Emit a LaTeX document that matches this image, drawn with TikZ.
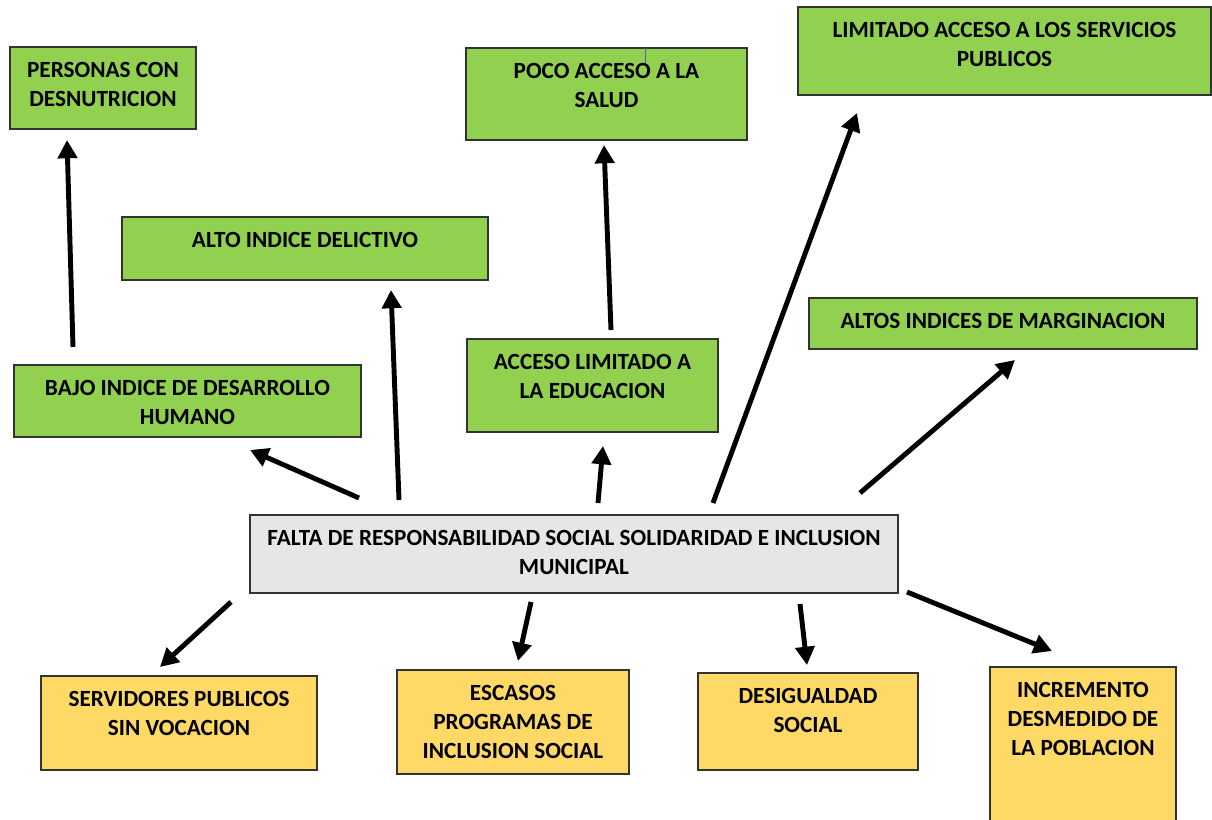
\documentclass[tikz,border=0pt]{standalone}
\usepackage{fontspec}
\setmainfont{Carlito}
\usetikzlibrary{arrows.meta}
\definecolor{effectgreen}{HTML}{92D050}
\definecolor{causeyellow}{HTML}{FFD966}
\definecolor{problemgray}{HTML}{E7E6E6}
\newlength{\pxu}
\setlength{\pxu}{0.025cm}
\newcommand{\boxtext}[3]{\parbox[b][#2\pxu][t]{#1\pxu}{\centering\vspace*{15\pxu}#3}}
\tikzset{
	box/.style={draw=black!80, line width=0.8pt, inner sep=0pt, outer sep=0pt, anchor=north west, font=\fontsize{16.5}{20.6}\selectfont\bfseries},
	effect/.style={box, fill=effectgreen},
	problem/.style={box, fill=problemgray},
	cause/.style={box, fill=causeyellow},
	arrowline/.style={line width=3.5pt, -{Triangle[length=13pt,width=13.5pt]}}
}
\begin{document}
\begin{tikzpicture}[x=0.025cm, y=-0.025cm]
				\useasboundingbox (0,0) rectangle (1212,820) ;
				% Effects
				\node[effect] (desnutricion) at (10,47) {\boxtext{186}{82}{PERSONAS CON\\DESNUTRICION}} ;
				\node[effect] (delictivo) at (122,217) {\boxtext{366}{63}{ALTO INDICE DELICTIVO}} ;
				\node[effect] (desarrollo) at (14,365) {\boxtext{347}{72}{BAJO INDICE DE DESARROLLO\\HUMANO}} ;
				\node[effect] (salud) at (466,48) {\boxtext{281}{92}{POCO ACCESO A LA\\SALUD}} ;
				\draw[gray!70!blue, line width=0.6pt] (645,48) -- (645,63) ;
				\node[effect] (educacion) at (467,339) {\boxtext{251}{93}{ACCESO LIMITADO A\\LA EDUCACION}} ;
				\node[effect] (servicios) at (798,7) {\boxtext{413}{88}{LIMITADO ACCESO A LOS SERVICIOS\\PUBLICOS}} ;
				\node[effect] (marginacion) at (809,298) {\boxtext{388}{51}{ALTOS INDICES DE MARGINACION}} ;
				% Central problem
				\node[problem] (falta) at (250,515) {\boxtext{648}{78}{FALTA DE RESPONSABILIDAD SOCIAL SOLIDARIDAD E INCLUSION\\MUNICIPAL}} ;
				% Causes
				\node[cause] (servidores) at (41,676) {\boxtext{276}{94}{SERVIDORES PUBLICOS\\SIN VOCACION}} ;
				\node[cause] (programas) at (397,670) {\boxtext{232}{104}{ESCASOS\\PROGRAMAS DE\\INCLUSION SOCIAL}} ;
				\node[cause] (desigualdad) at (698,673) {\boxtext{220}{97}{DESIGUALDAD\\SOCIAL}} ;
				\node[cause] (incremento) at (990,667) {\boxtext{186}{170}{INCREMENTO\\DESMEDIDO DE\\LA POBLACION}} ;
				% Arrow ends
				\coordinate (desnutricionT) at (73,347) ;
				\coordinate (desnutricionH) at (67,140) ;
				\coordinate (delictivoT) at (399,500) ;
				\coordinate (delictivoH) at (391,290) ;
				\coordinate (desarrolloT) at (359,498) ;
				\coordinate (desarrolloH) at (250,450) ;
				\coordinate (educacionT) at (598,503) ;
				\coordinate (educacionH) at (603,446) ;
				\coordinate (saludT) at (611,330) ;
				\coordinate (saludH) at (604,145) ;
				\coordinate (serviciosT) at (713,503) ;
				\coordinate (serviciosH) at (857,113) ;
				\coordinate (marginacionT) at (860,493) ;
				\coordinate (marginacionH) at (1015,360) ;
				\coordinate (servidoresT) at (231,602) ;
				\coordinate (servidoresH) at (160,667) ;
				\coordinate (programasT) at (531,602) ;
				\coordinate (programasH) at (518,661) ;
				\coordinate (desigualdadT) at (800,604) ;
				\coordinate (desigualdadH) at (807,665) ;
				\coordinate (incrementoT) at (907,592) ;
				\coordinate (incrementoH) at (1052,651) ;
				% Arrows
				\draw[arrowline] (desnutricionT) -- (desnutricionH) ;
				\draw[arrowline] (delictivoT) -- (delictivoH) ;
				\draw[arrowline] (desarrolloT) -- (desarrolloH) ;
				\draw[arrowline] (educacionT) -- (educacionH) ;
				\draw[arrowline] (saludT) -- (saludH) ;
				\draw[arrowline] (serviciosT) -- (serviciosH) ;
				\draw[arrowline] (marginacionT) -- (marginacionH) ;
				\draw[arrowline] (servidoresT) -- (servidoresH) ;
				\draw[arrowline] (programasT) -- (programasH) ;
				\draw[arrowline] (desigualdadT) -- (desigualdadH) ;
				\draw[arrowline] (incrementoT) -- (incrementoH) ;
			\end{tikzpicture}
\end{document}
